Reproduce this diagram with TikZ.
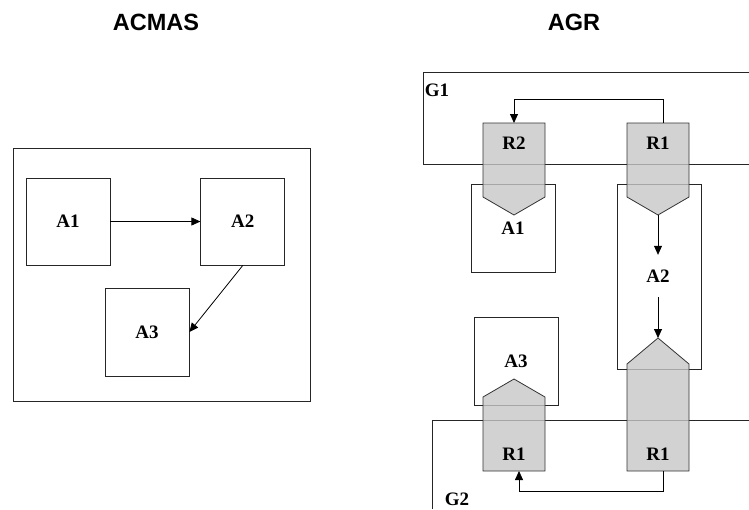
\documentclass[tikz,border=0pt]{standalone}
\usepackage{fontspec}
\setmainfont{Liberation Serif}
\setsansfont{Liberation Sans}
\usepackage{tikz}
\usetikzlibrary{arrows.meta, positioning}
\newcommand{\rotulo}{\fontsize{19}{22}\selectfont\bfseries}
\newcommand{\titulo}{\fontsize{23.5}{26}\selectfont\sffamily\bfseries}
\tikzset{
  caja/.style={draw=black!85, line width=0.8pt, minimum width=84pt, minimum height=87pt, inner sep=0pt, font=\rotulo},
  rol/.style={draw=black!80, line width=0.8pt, fill=black!22, fill opacity=0.8},
  grupo/.style={draw=black!85, line width=0.8pt},
  texto/.style={inner sep=0pt, font=\rotulo},
  flecha/.style={-{Triangle[length=9pt,width=8pt]}, line width=0.8pt},
}
\begin{document}
\begin{tikzpicture}[x=1pt, y=-1pt]
  \useasboundingbox (0,0) rectangle (749,509);
  % ACMAS
  \node[font=\titulo] (tacmas) at (156,22) {ACMAS};
  \node[draw=black!85, line width=0.8pt, minimum width=297pt, minimum height=253pt] (sis) at (161.5,274.5) {};
  \node[caja] (a1) at (68,221.5) {A1};
  \node[caja, right=90pt of a1] (a2) {A2};
  \node[caja, minimum height=88pt] (a3) at (147,332) {A3};
  \draw[flecha] (a1) -- (a2);
  \draw[flecha] (a2.south) -- (a3.east);
  % AGR
  \node[font=\titulo] (tagr) at (574,22) {AGR};
  \draw[grupo] (749,72) -| (423,164) -- (749,164);
  \node[texto] (g1) at (437,90) {G1};
  \draw[grupo] (749,420) -| (432,509);
  \node[texto] (g2) at (457,499) {G2};
  \node[caja, minimum height=88pt] (b1) at (513,228) {A1};
  \node[caja, minimum height=185pt] (b2) at (659,276.5) {};
  \node[caja, minimum height=88pt] (b3) at (516,361) {A3};
  \node[texto, minimum height=42pt] (b2t) at (658,276) {A2};
  % roles
  \draw[rol] (483,123) -- (545,123) -- (545,197) -- (514,215) -- (483,197) -- cycle;
  \draw[rol] (627,123) -- (689,123) -- (689,197) -- (658,215) -- (627,197) -- cycle;
  \draw[rol] (483,471) -- (545,471) -- (545,397) -- (514,379) -- (483,397) -- cycle;
  \draw[rol] (627,471) -- (689,471) -- (689,364) -- (658,338) -- (627,364) -- cycle;
  \node[texto] (r2) at (514,143) {R2};
  \node[texto] (r1a) at (658,143) {R1};
  \node[texto] (r1b) at (514,454) {R1};
  \node[texto] (r1c) at (658,454) {R1};
  \coordinate (r1top) at (663,123);
  \coordinate (r2top) at (514,123);
  \coordinate (r1pta) at (658,215);
  \coordinate (r1ptc) at (658,338);
  \coordinate (r1bot) at (663,471);
  \coordinate (r1botb) at (519,471);
  \draw[flecha] (r1top) -- ++(0,-24) -| (r2top);
  \draw[flecha] (r1pta) -- (b2t.north);
  \draw[flecha] (b2t.south) -- (r1ptc);
  \draw[flecha] (r1bot) -- ++(0,20) -| (r1botb);
\end{tikzpicture}
\end{document}
